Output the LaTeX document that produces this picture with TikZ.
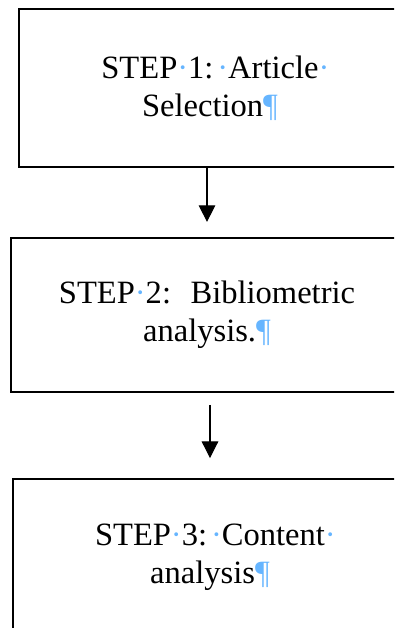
\documentclass[tikz,border=0pt]{standalone}
\usepackage{fontspec}
\setmainfont{Liberation Serif}
\usepackage{xcolor}
\usetikzlibrary{arrows.meta}
\definecolor{mark_blue}{rgb}{0.40, 0.71, 1.0}

% Word formatting marks
\newcommand{\markdot}{\textcolor{mark_blue}{·}}
\newcommand{\markpara}{\textcolor{mark_blue}{¶}}

\begin{document}
\begin{tikzpicture}[
    stepbox/.style={draw=black, line width=1.5pt, align=center, inner sep=0pt,
      font=\fontsize{24.5}{28.5}\selectfont},
    flow/.style={-{Triangle[width=12.5pt,length=12.5pt]}, line width=0.8pt}
  ]
    % Page: 394 x 628 px (1px = 0.026458cm)
    \useasboundingbox (0,0) rectangle (10.425,16.616);
    \clip (0,0) rectangle (10.425,16.616);

    % Step boxes (they run off the right edge)
    \node[stepbox, minimum width=10.107cm, minimum height=4.180cm] (step1) at (5.556,14.288)
      {STEP\markdot 1:\hspace{0.12em}\markdot Article\rlap{\markdot}\\Selection\markpara};
    \node[stepbox, minimum width=10.371cm, minimum height=4.075cm] (step2) at (5.477,8.281)
      {STEP\markdot 2:\hspace{0.6em}Bibliometric\\analysis.\markpara};
    \node[stepbox, minimum width=10.424cm, minimum height=4.127cm] (step3) at (5.556,1.878)
      {STEP\markdot 3:\hspace{0.12em}\markdot Content\rlap{\markdot}\\analysis\markpara};

    % Arrows between steps
    \draw[flow, shorten >=0.4cm] (step2.north |- step1.south) -- (step2.north);
    \draw[flow, shorten <=0.317cm, shorten >=0.529cm] (step3.north |- step2.south) -- (step3.north);

\end{tikzpicture}
\end{document}
